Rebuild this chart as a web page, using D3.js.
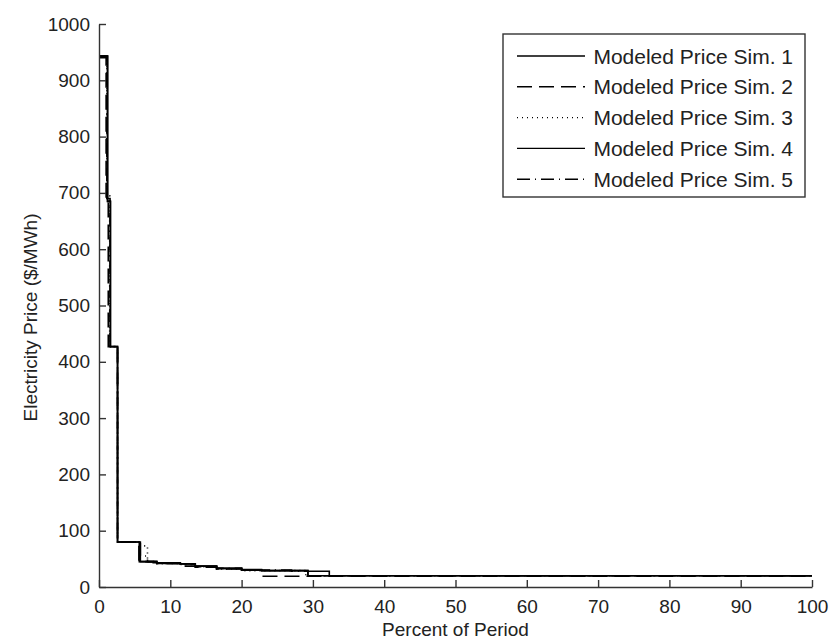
<!DOCTYPE html>
<html>
<head>
<meta charset="utf-8">
<script src="https://cdn.jsdelivr.net/npm/d3@7"></script>
<style>
  body { margin: 0; background: #fff; }
  svg text { font-family: "Liberation Sans", Arial, sans-serif; fill: #222; }
</style>
</head>
<body>
<div id="chart"></div>
<script>
// step points: percent where each price level starts, and the price level
var sim1Pct   = [0, 1.2, 1.6, 2.6, 5.65, 8.1, 11.4, 13.5, 16.5, 20, 22.8, 29.3, 32.3, 100];
var sim1Price = [943, 685, 427, 80, 45, 42, 41, 37, 33, 30, 29, 28, 20, 20];

var sim2Pct   = [0, 1.0, 1.3, 2.6, 5.6, 8.1, 11.4, 13.5, 16.5, 20, 22.8, 100];
var sim2Price = [940, 690, 427, 80, 45, 42, 37, 35, 32, 30, 19, 19];

var sim3Pct   = [0, 1.1, 1.5, 2.6, 5.6, 6.8, 8.1, 11.4, 13.5, 16.5, 20, 29, 100];
var sim3Price = [943, 695, 427, 80, 73, 45, 42, 40, 36, 32, 29, 20, 20];

var sim4Pct   = [0, 1.2, 1.6, 2.6, 5.8, 7.6, 11.4, 13.5, 16.5, 20, 22.8, 29.3, 100];
var sim4Price = [943, 685, 427, 80, 45, 43, 41, 37, 33, 31, 29, 20, 20];

var sim5Pct   = [0, 1.1, 1.55, 2.6, 5.8, 6.8, 8.1, 11.4, 13.5, 16.5, 20, 27, 29.3, 100];
var sim5Price = [943, 690, 427, 80, 55, 45, 42, 40, 36, 33, 30, 28, 20, 20];

var seriesNames = ["Modeled Price Sim. 1", "Modeled Price Sim. 2", "Modeled Price Sim. 3",
                   "Modeled Price Sim. 4", "Modeled Price Sim. 5"];
var xTicks = [0, 10, 20, 30, 40, 50, 60, 70, 80, 90, 100];
var yTicks = [0, 100, 200, 300, 400, 500, 600, 700, 800, 900, 1000];

var dashes = ["none", "15,7", "1,4", "none", "13,5,1,5"];

var width = 832, height = 641;
var mLeft = 99, mRight = 812, mTop = 24, mBottom = 587;

var data = [
  [sim1Pct, sim1Price], [sim2Pct, sim2Price], [sim3Pct, sim3Price],
  [sim4Pct, sim4Price], [sim5Pct, sim5Price]
].map(function(s, i) {
  return { name: seriesNames[i], values: s[0].map(function(p, j) { return { pct: p, price: s[1][j] }; }) };
});

var xScale = d3.scaleLinear().domain([0, 100]).range([mLeft, mRight]);
var yScale = d3.scaleLinear().domain([0, 1000]).range([mBottom, mTop]);

var svg = d3.select("#chart").append("svg")
  .attr("width", width)
  .attr("height", height);

/* lines */
var line = d3.line()
  .curve(d3.curveStepAfter)
  .x(d => xScale(d.pct))
  .y(d => yScale(d.price));

svg.append("g").selectAll("path")
  .data(data).enter()
  .append("path")
  .attr("d", d => line(d.values))
  .attr("fill", "none")
  .attr("stroke", "#000")
  .attr("stroke-width", 1.6)
  .attr("stroke-dasharray", (d, i) => dashes[i]);

/* axes, ticks pointing inward */
var xAxis = svg.append("g")
  .attr("transform", `translate(0, ${mBottom})`)
  .call(d3.axisBottom(xScale).tickValues(xTicks).tickFormat(d3.format("d"))
    .tickSizeInner(-7).tickSizeOuter(0).tickPadding(13));

var yAxis = svg.append("g")
  .attr("transform", `translate(${mLeft}, 0)`)
  .call(d3.axisLeft(yScale).tickValues(yTicks).tickFormat(d3.format("d"))
    .tickSizeInner(-7).tickSizeOuter(0).tickPadding(9));

[xAxis, yAxis].forEach(function(ax) {
  ax.selectAll("path, line").attr("stroke", "#333").attr("stroke-width", 1.4);
  ax.selectAll("text").attr("font-size", 19).attr("fill", "#222")
    .style("font-family", "'Liberation Sans', Arial, sans-serif");
});

svg.append("text")
  .attr("x", (mLeft + mRight) / 2)
  .attr("y", 636)
  .attr("text-anchor", "middle")
  .attr("font-size", 19)
  .text("Percent of Period");

svg.append("text")
  .attr("transform", `translate(37, ${(mTop + mBottom) / 2 + 12}) rotate(-90)`)
  .attr("text-anchor", "middle")
  .attr("font-size", 19)
  .text("Electricity Price ($/MWh)");

/* legend */
var legend = svg.append("g");
legend.append("rect")
  .attr("x", 503).attr("y", 34)
  .attr("width", 302).attr("height", 163)
  .attr("fill", "#fff")
  .attr("stroke", "#333")
  .attr("stroke-width", 1.4);

var rows = legend.selectAll(".row")
  .data(data).enter()
  .append("g")
  .attr("transform", (d, i) => `translate(0, ${56 + i * 30.8})`);

rows.append("line")
  .attr("x1", 517).attr("x2", 585)
  .attr("stroke", "#000")
  .attr("stroke-width", 1.4)
  .attr("stroke-dasharray", (d, i) => dashes[i]);

rows.append("text")
  .attr("x", 793)
  .attr("y", 7.5)
  .attr("text-anchor", "end")
  .attr("font-size", 21)
  .text(d => d.name);
</script>
</body>
</html>
